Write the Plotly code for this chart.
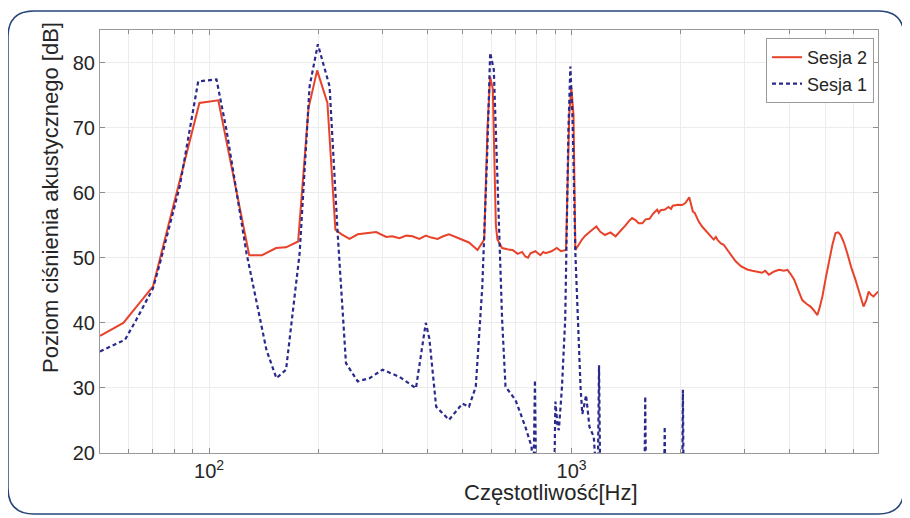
import math
import plotly.graph_objects as go

# ---- data: Sesja 2 (red, solid) ----
freq_s2 = [50, 58, 70, 94, 106, 119, 129, 140, 153, 163, 176, 188, 198.6, 212, 223, 232, 244, 257, 270, 289,
           308, 320, 335, 350, 364, 380, 396, 410, 427, 442, 459, 480, 500, 521, 550, 574, 586, 596, 606, 618,
           624, 643, 665, 687, 710, 730, 745, 758, 770, 794, 820, 835, 848, 880, 910, 935, 965, 985, 998, 1012, 1024, 1045,
           1068, 1090, 1110, 1140, 1170, 1200, 1236, 1280, 1322, 1370, 1410, 1437, 1468, 1500, 1530, 1567, 1600,
           1640, 1680, 1722, 1740, 1760, 1809, 1850, 1880, 1900, 1967, 2016, 2060, 2111, 2130, 2160, 2185, 2240, 2290, 2334,
           2400, 2465, 2500, 2530, 2580, 2628, 2690, 2744, 2830, 2929, 3000, 3050, 3150, 3231, 3350, 3420, 3500, 3620, 3735, 3850,
           3937, 4020, 4114, 4220, 4326, 4450, 4560, 4660, 4763, 4830, 4917, 5020, 5129, 5240, 5345, 5440, 5522,
           5640, 5759, 5900, 6068, 6230, 6386, 6500, 6598, 6700, 6805, 7000]
level_s2 = [38.0, 40.0, 45.6, 73.8, 74.2, 60.5, 50.4, 50.4, 51.5, 51.6, 52.5, 73.0, 78.8, 73.8, 54.3, 53.6, 52.9, 53.6, 53.7, 53.95,
            53.2, 53.3, 53.0, 53.4, 53.3, 52.9, 53.4, 53.1, 52.9, 53.3, 53.6, 53.2, 52.8, 52.35, 51.2, 52.8, 70.0, 77.8, 76.0, 55.0,
            52.8, 51.5, 51.3, 51.2, 50.6, 50.9, 50.2, 50.0, 50.7, 51.0, 50.4, 50.9, 50.7, 51.0, 51.5, 51.0, 51.2, 72.0, 76.1, 72.0, 51.2, 52.0,
            52.8, 53.4, 53.8, 54.3, 54.8, 54.0, 53.5, 53.9, 53.3, 54.2, 55.0, 55.6, 56.1, 55.8, 55.3, 55.3, 55.9,
            56.0, 56.8, 57.4, 56.9, 57.3, 57.4, 57.8, 57.5, 58.0, 58.15, 58.1, 58.4, 59.3, 58.5, 57.1, 56.9, 55.6, 54.8, 54.3,
            53.4, 52.8, 53.2, 52.7, 52.2, 52.0, 51.2, 50.5, 49.5, 48.7, 48.4, 48.2, 48.0, 47.9, 47.7, 48.0, 47.4, 47.9, 48.15, 48.0,
            48.15, 47.5, 46.6, 45.0, 43.5, 42.9, 42.5, 41.9, 41.2, 42.3, 44.05, 46.8, 49.7, 52.0, 53.8, 53.9, 53.5,
            52.3, 50.7, 48.6, 46.6, 44.4, 42.5, 43.5, 44.8, 44.3, 44.05, 44.8]

# ---- data: Sesja 1 (blue, dashed) ----
freq_s1 = [50, 58.6, 63, 70, 73.2, 83, 93.3, 104.8, 111.6, 126.8, 143.9, 153.3, 163, 177.7, 189.3, 199.5, 214.9,
           226.5, 238.5, 257, 277, 301, 335, 372, 396, 405, 423, 459, 500, 521, 544, 567, 585, 596, 610, 624,
           643, 657, 700, 745, 775, 785, 792, 798, 880, 895, 902, 915, 922, 940, 960, 980, 992, 1006, 1024, 1058,
           1070, 1081, 1096, 1120, 1151, 1165, 1180, 1190, 1200, 1585, 1596, 1607, 1795, 1806, 1817, 2015, 2027,
           2040]
level_s1 = [35.6, 37.4, 40.5, 45.3, 49.2, 61.0, 77.1, 77.4, 69.7, 50.7, 35.85, 31.5, 32.8, 50.7, 76.35, 82.8, 76.35,
            53.3, 33.8, 31.0, 31.5, 32.8, 31.7, 29.95, 40.0, 37.6, 27.1, 25.1, 27.6, 27.1, 30.2, 45.6, 66.1, 81.5, 78.9, 61.0,
            40.5, 30.2, 28.15, 24.05, 21.0, 16.0, 31.2, 15.0, 12.0, 15.0, 27.9, 24.0, 23.5, 30.0, 40.5, 70.0, 79.4, 71.2, 50.7, 30.2,
            26.0, 27.1, 28.9, 24.0, 22.5, 18.0, 15.0, 33.5, 14.0, 10.0, 28.7, 10.0, 10.0, 24.05, 10.0, 10.0, 29.7,
            10.0]

y_ticks = [20, 30, 40, 50, 60, 70, 80]
x_ticks = [100, 1000]
x_tick_labels = ["10<sup>2</sup>", "10<sup>3</sup>"]
x_minor = [50, 60, 70, 80, 90, 200, 300, 400, 500, 600, 700, 800, 900,
           2000, 3000, 4000, 5000, 6000, 7000]

# the page body has an 8px margin, so the figure is drawn 8px in from the window edge
OFF = 8
W, H = 910 - OFF, 518 - OFF
PL, PR, PT, PB = 100, 878, 30, 453          # plot area in window pixels
ML, MT = PL - OFF, PT - OFF
MR, MB = W - (PR - OFF), H - (PB - OFF)
PW, PH = PR - PL, PB - PT


def px(xp):
    return (xp - PL) / PW


def py(yp):
    return (PB - yp) / PH


fig = go.Figure()
fig.add_trace(go.Scatter(x=freq_s2, y=level_s2, mode="lines", name="Sesja 2",
                         line=dict(color="#e8432a", width=2)))
fig.add_trace(go.Scatter(x=freq_s1, y=level_s1, mode="lines", name="Sesja 1",
                         line=dict(color="#2a2a8c", width=2.2, dash="4px,3px")))

axis_font = dict(family="Liberation Sans, Arial, sans-serif", size=20, color="#262626")

fig.update_xaxes(type="log", range=[math.log10(50), math.log10(7000)],
                 tickmode="array", tickvals=x_ticks, ticktext=x_tick_labels,
                 ticks="inside", ticklen=5, tickcolor="#8c8c8c",
                 minor=dict(tickmode="array", tickvals=x_minor, ticks="inside", ticklen=4,
                            tickcolor="#8c8c8c", showgrid=True, gridcolor="#ececec", gridwidth=1),
                 showline=True, linecolor="#9a9a9a", linewidth=1, mirror="ticks",
                 showgrid=True, gridcolor="#ececec", gridwidth=1,
                 tickfont=axis_font, zeroline=False)
fig.update_yaxes(range=[20, 85], tickmode="array", tickvals=y_ticks,
                 ticks="inside", ticklen=5, tickcolor="#8c8c8c",
                 showline=True, linecolor="#9a9a9a", linewidth=1, mirror="ticks",
                 showgrid=True, gridcolor="#ececec", gridwidth=1,
                 tickfont=axis_font, zeroline=False)

# rounded frame around the figure (window pixel coordinates)
fl, fr, ft, fb, rad = 8, 904, 11, 514, 26
path = (f"M {px(fl + rad)},{py(ft)} L {px(fr - rad)},{py(ft)} "
        f"Q {px(fr)},{py(ft)} {px(fr)},{py(ft + rad)} "
        f"L {px(fr)},{py(fb - rad)} Q {px(fr)},{py(fb)} {px(fr - rad)},{py(fb)} "
        f"L {px(fl + rad)},{py(fb)} Q {px(fl)},{py(fb)} {px(fl)},{py(fb - rad)} "
        f"L {px(fl)},{py(ft + rad)} Q {px(fl)},{py(ft)} {px(fl + rad)},{py(ft)} Z")
fig.add_shape(type="path", xref="paper", yref="paper", path=path,
              line=dict(color="#27457a", width=1.5), layer="below")

title_font = dict(family="Liberation Sans, Arial, sans-serif", size=22, color="#262626")
fig.add_annotation(text="Częstotliwość[Hz]", xref="paper", yref="paper",
                   x=px(551), y=py(492), xanchor="center", yanchor="middle",
                   showarrow=False, font=title_font)
fig.add_annotation(text="Poziom ciśnienia akustycznego [dB]", xref="paper", yref="paper",
                   x=px(50), y=py(198), xanchor="center", yanchor="middle", textangle=-90,
                   showarrow=False, font=title_font)

fig.update_layout(
    width=W, height=H,
    margin=dict(l=ML, r=MR, t=MT, b=MB, autoexpand=False),
    paper_bgcolor="white", plot_bgcolor="white",
    showlegend=True,
    legend=dict(x=px(874), y=py(38), xanchor="right", yanchor="top",
                bgcolor="white", bordercolor="#9a9a9a", borderwidth=1,
                font=dict(family="Liberation Sans, Arial, sans-serif", size=18, color="#262626"),
                tracegroupgap=0, itemwidth=30),
)

fig.write_html("out.html")
